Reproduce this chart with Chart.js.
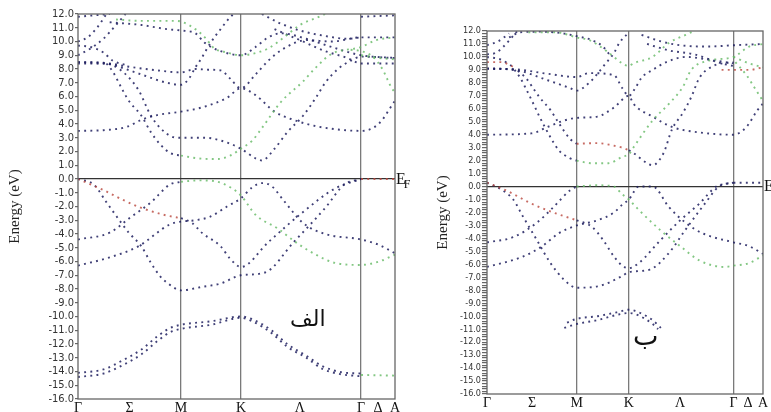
<!DOCTYPE html>
<html lang="fa">
<head>
    <meta charset="UTF-8">
    <title>Band structure</title>
    <script src="https://cdn.jsdelivr.net/npm/chart.js"></script>
    <style>
        body { margin: 0; background: #fff; width: 771px; height: 412px; overflow: hidden; position: relative; }
        .box { position: absolute; top: 0; height: 412px; }
        .lbl { position: absolute; color: #111; white-space: nowrap; }
        .ef { font-family: "Liberation Serif", "DejaVu Serif", serif; font-size: 16px; }
        .ar { font-family: "DejaVu Sans", sans-serif; }
    </style>
</head>
<body>
    <div class="box" style="left:0;width:410px"><canvas id="chartA"></canvas></div>
    <div class="box" style="left:410px;width:361px"><canvas id="chartB"></canvas></div>
    <div class="lbl ef" style="left:396px;top:170px">E<sub style="font-size:12px;margin-left:-2px">F</sub></div>
    <div class="lbl ef" style="left:764px;top:177px">E</div>
    <div class="lbl ar" style="left:290px;top:306px;font-size:22px" dir="rtl">الف</div>
    <div class="lbl ar" style="left:633px;top:320px;font-size:27px" dir="rtl">ب</div>

    <script>
        // k path: Γ - Σ - M - K - Λ - Γ - Δ - A
        const kTicks = [0, 0.163, 0.325, 0.514, 0.70, 0.893, 0.946, 1];
        const kLabels = ['Γ', 'Σ', 'M', 'K', 'Λ', 'Γ', 'Δ', 'A'];
        const kLines = [0.325, 0.514, 0.893];

        // ---- panel الف : bands as [k, E(eV)] ----
        const aVal1 = [[0.325,-2.85],[0.36,-3.2],[0.39,-3.9],[0.45,-4.9],[0.48,-5.8],[0.514,-6.4],[0.6,-4.6],[0.71,-2.4],[0.81,-0.7],[0.893,0]];
        const aVal1r = [[0,0],[0.08,-0.8],[0.14,-1.5],[0.2,-2.1],[0.27,-2.6],[0.325,-2.85]];
        const aVal2 = [[0,0],[0.05,-0.4],[0.09,-1.7],[0.14,-3.3],[0.16,-3.9],[0.2,-4.9],[0.23,-6.1],[0.26,-7.1],[0.29,-7.7],[0.325,-8.1],[0.39,-7.85],[0.45,-7.6],[0.514,-7.0],[0.59,-6.8],[0.68,-4.6],[0.78,-2.1],[0.84,-0.4],[0.893,0]];
        const aValTop = [[0.893,0],[1,0]];
        const aVal3 = [[0,-4.4],[0.1,-3.9],[0.165,-2.8],[0.23,-1.7],[0.29,-0.4],[0.325,-0.2]];
        const aVal3g = [[0.325,-0.2],[0.38,-0.1],[0.43,-0.15],[0.48,-0.6],[0.514,-1.2],[0.56,-2.6],[0.63,-3.6],[0.69,-4.65],[0.75,-5.5],[0.81,-6.1],[0.893,-6.25],[0.95,-6.0],[1,-5.5]];
        const aVal4 = [[0,-6.3],[0.1,-5.7],[0.19,-4.9],[0.29,-3.3],[0.325,-3.1],[0.37,-3.0],[0.416,-2.75],[0.47,-2.0],[0.514,-1.4],[0.55,-0.6],[0.58,-0.3],[0.61,-0.5],[0.65,-1.6],[0.71,-3.2],[0.78,-4.0],[0.893,-4.4],[0.95,-4.8],[1,-5.4]];
        const aLow1 = [[0,-14.1],[0.08,-13.85],[0.14,-13.2],[0.2,-12.4],[0.25,-11.45],[0.29,-10.85],[0.325,-10.6],[0.42,-10.35],[0.514,-10.0],[0.55,-10.2],[0.61,-11.0],[0.66,-12.0],[0.72,-12.85],[0.77,-13.6],[0.83,-14.05],[0.893,-14.15]];
        const aLow2 = [[0,-14.4],[0.08,-14.15],[0.14,-13.55],[0.2,-12.75],[0.25,-11.8],[0.29,-11.15],[0.325,-10.9],[0.42,-10.6],[0.514,-10.1],[0.55,-10.35],[0.61,-11.2],[0.66,-12.2],[0.72,-13.0],[0.77,-13.8],[0.83,-14.2],[0.893,-14.35]];
        const aLowG = [[0.893,-14.25],[1,-14.3]];
        const aCon1 = [[0,3.5],[0.08,3.55],[0.155,3.8],[0.2,4.3],[0.25,4.65],[0.325,4.9],[0.39,5.2],[0.47,5.9],[0.514,6.6],[0.56,6.1],[0.62,4.9],[0.68,4.3],[0.76,3.8],[0.893,3.5],[0.93,3.7],[0.96,4.3],[0.98,5.0],[1,5.7]];
        const aCon2 = [[0.09,8.4],[0.11,7.8],[0.14,6.5],[0.16,5.7],[0.2,4.6],[0.23,3.4],[0.26,2.5],[0.29,1.9],[0.325,1.7]];
        const aCon2g = [[0.325,1.7],[0.38,1.5],[0.44,1.45],[0.48,1.7],[0.514,2.2],[0.55,2.8],[0.58,3.7],[0.64,5.6],[0.71,7.1],[0.75,8.1],[0.8,9.1],[0.893,9.6],[0.94,10.1],[1,10.3]];
        const aCon3 = [[0,8.5],[0.08,8.45],[0.13,8.0],[0.19,6.5],[0.23,4.6],[0.26,3.7],[0.3,3.05],[0.325,3.0],[0.4,3.0],[0.45,2.8],[0.514,2.2],[0.56,1.5],[0.58,1.35],[0.62,2.2],[0.66,3.4],[0.71,4.6],[0.75,5.9],[0.78,7.0],[0.82,8.0],[0.86,8.6],[0.893,8.9],[1,8.8]];
        const aCon4 = [[0,8.5],[0.1,8.4],[0.15,8.2],[0.25,7.9],[0.325,7.75],[0.37,8.0],[0.41,7.95],[0.45,7.9],[0.48,7.3],[0.514,6.6],[0.56,7.6],[0.6,8.6],[0.65,9.5],[0.72,10.1],[0.8,10.0],[0.893,10.3],[1,10.3]];
        const aCon5 = [[0,8.4],[0.1,8.35],[0.15,8.0],[0.2,7.6],[0.28,7.0],[0.325,6.85],[0.35,7.3],[0.37,8.1],[0.39,8.8],[0.41,9.6],[0.43,10.3],[0.45,10.9],[0.47,11.5],[0.49,12.0]];
        const aTopG = [[0.12,11.6],[0.2,11.5],[0.3,11.5],[0.325,11.45],[0.37,10.9],[0.4,10.3],[0.43,9.5],[0.47,9.2],[0.514,9.0],[0.55,9.1],[0.6,9.5],[0.65,10.3],[0.7,11.2],[0.75,11.7],[0.78,12]];
        const aTop1 = [[0.1,11.4],[0.2,11.2],[0.28,10.9],[0.325,10.8],[0.37,10.6],[0.4,9.9],[0.45,9.3],[0.514,9.0],[0.56,9.6],[0.6,10.3],[0.64,10.6],[0.72,10.2],[0.8,9.6],[0.893,9.0],[1,8.8]];
        const aTop2 = [[0,11.8],[0.05,11.9],[0.1,12]];
        const aTop3 = [[0,9.0],[0.04,9.5],[0.08,10.2],[0.12,11.2],[0.15,12]];
        const aTop4 = [[0,10.0],[0.03,10.3],[0.06,11.0],[0.09,12]];
        const aTop5 = [[0,9.7],[0.04,9.6],[0.08,9.2],[0.11,8.6],[0.15,8.3]];
        const aTop6 = [[0.58,12],[0.64,11.3],[0.7,10.8],[0.78,10.4],[0.85,10.2],[0.893,10.3]];
        const aTop7 = [[0.62,10.9],[0.7,10.1],[0.78,9.3],[0.85,8.8],[0.893,8.4],[1,8.4]];
        const aTop8 = [[0.893,11.8],[1,11.9]];
        const aTopG2 = [[0.86,9.4],[0.893,9.3],[0.93,8.9],[0.96,8.0],[0.99,6.6],[1,6.3]];
        const aTopG3 = [[0.893,9.0],[0.95,8.8],[1,8.7]];

        const aDark = [aVal1, aVal2, aVal3, aVal4, aLow1, aLow2, aCon1, aCon2, aCon3, aCon4, aCon5, aTop1, aTop2, aTop3, aTop4, aTop5, aTop6, aTop7, aTop8];
        const aRed = [aVal1r, aValTop];
        const aGreen = [aVal3g, aLowG, aCon2g, aTopG, aTopG2, aTopG3];

        // ---- panel ب ----
        const bVal1r = [[0,0.3],[0.07,-0.3],[0.16,-1.3],[0.24,-2.0],[0.325,-2.6]];
        const bVal1 = [[0.325,-2.6],[0.38,-3.1],[0.42,-4.1],[0.46,-5.4],[0.49,-6.1],[0.514,-6.3],[0.55,-5.9],[0.63,-4.1],[0.7,-2.6],[0.77,-1.3],[0.83,0.0],[0.86,0.2],[0.893,0.3]];
        const bVal2 = [[0,0.3],[0.05,-0.2],[0.095,-1.0],[0.13,-2.3],[0.18,-4.1],[0.23,-5.9],[0.28,-7.2],[0.325,-7.8],[0.4,-7.7],[0.49,-6.9],[0.514,-6.6],[0.59,-6.4],[0.66,-5.1],[0.72,-3.3],[0.79,-1.3],[0.84,0.0],[0.893,0.3]];
        const bValTop = [[0.893,0.3],[1,0.3]];
        const bVal3 = [[0,-4.3],[0.095,-3.9],[0.18,-2.8],[0.24,-1.6],[0.3,-0.3],[0.325,0.0]];
        const bVal3g = [[0.325,0.0],[0.4,0.1],[0.46,0.0],[0.49,-0.6],[0.514,-1.0],[0.55,-1.8],[0.63,-3.4],[0.7,-4.6],[0.77,-5.7],[0.86,-6.2],[0.893,-6.1],[0.95,-5.9],[1,-5.3]];
        const bVal4 = [[0,-6.2],[0.13,-5.4],[0.2,-4.6],[0.26,-3.6],[0.325,-3.0],[0.4,-2.6],[0.46,-2.0],[0.49,-1.4],[0.514,-1.0],[0.55,0.0],[0.6,0.0],[0.66,-1.6],[0.72,-2.8],[0.78,-3.6],[0.893,-4.3],[0.95,-4.6],[1,-5.2]];
        const bLow1 = [[0.29,-10.5],[0.325,-10.2],[0.4,-10.0],[0.47,-9.7],[0.514,-9.5],[0.55,-9.7],[0.6,-10.3],[0.63,-10.9]];
        const bLow2 = [[0.28,-10.9],[0.325,-10.6],[0.4,-10.3],[0.47,-9.9],[0.514,-9.75],[0.55,-9.95],[0.6,-10.6],[0.62,-11.0]];
        const bCon1 = [[0,4.0],[0.16,4.1],[0.22,4.6],[0.28,5.1],[0.325,5.3],[0.4,5.4],[0.46,6.1],[0.514,7.0],[0.53,6.4],[0.6,5.4],[0.67,4.6],[0.76,4.2],[0.893,4.0],[0.94,4.6],[0.98,5.9],[1,6.4]];
        const bCon2 = [[0.1,9.0],[0.12,8.4],[0.14,7.6],[0.17,6.3],[0.19,5.4],[0.23,3.8],[0.26,2.8],[0.3,2.2],[0.325,2.0]];
        const bCon2g = [[0.325,2.0],[0.38,1.8],[0.44,1.8],[0.49,2.3],[0.514,2.5],[0.53,3.0],[0.6,5.1],[0.66,6.4],[0.71,7.7],[0.74,9.0],[0.8,9.7],[0.893,10.0],[0.95,10.8],[1,11.0]];
        const bCon3 = [[0,9.1],[0.1,9.0],[0.14,8.4],[0.17,7.5],[0.19,6.9],[0.23,5.9],[0.26,4.9],[0.3,3.7],[0.325,3.3]];
        const bCon3r = [[0.325,3.3],[0.4,3.35],[0.45,3.2],[0.49,3.0],[0.514,2.8]];
        const bCon3b = [[0.514,2.8],[0.53,2.6],[0.58,1.8],[0.6,1.65],[0.64,2.6],[0.67,4.4],[0.71,5.7],[0.74,6.9],[0.77,8.4],[0.82,9.3],[0.893,9.6]];
        const bCon4 = [[0,9.1],[0.1,9.05],[0.22,8.7],[0.325,8.45],[0.37,8.75],[0.46,8.6],[0.49,7.6],[0.514,7.0],[0.54,7.7],[0.56,8.4],[0.6,9.0],[0.65,9.6],[0.72,10.0],[0.8,9.8],[0.893,9.5]];
        const bCon5 = [[0,9.1],[0.1,9.0],[0.22,8.2],[0.3,7.6],[0.325,7.4],[0.37,8.0],[0.4,8.7],[0.43,9.5],[0.46,10.3],[0.48,11.1],[0.51,11.8]];
        const bTopG = [[0.15,11.9],[0.25,11.9],[0.325,11.5],[0.37,11.3],[0.43,10.5],[0.46,10.0],[0.49,9.5],[0.514,9.3],[0.53,9.5],[0.6,10.0],[0.66,11.1],[0.72,11.7],[0.75,12]];
        const bTop1 = [[0.08,11.5],[0.12,11.9],[0.2,11.95],[0.28,11.8],[0.325,11.6],[0.38,11.3],[0.42,10.8],[0.45,10.0]];
        const bTop2 = [[0.56,11.7],[0.63,11.2],[0.7,10.9],[0.8,10.8],[0.893,10.9],[1,11.0]];
        const bTop3 = [[0.58,11.0],[0.66,10.5],[0.75,10.2],[0.85,9.5],[0.893,9.3]];
        const bTop4 = [[0,10.9],[0.04,11.2],[0.08,11.8]];
        const bTop5 = [[0,10.2],[0.03,10.3],[0.06,10.8],[0.09,11.5],[0.11,12]];
        const bTop6 = [[0,10.0],[0.05,9.8],[0.09,9.3]];
        const bTopR = [[0,9.6],[0.05,9.6],[0.1,9.2]];
        const bTopR2 = [[0.85,9.0],[0.893,9.0],[0.95,9.0],[1,9.2]];
        const bTopG2 = [[0.893,10.0],[0.95,9.5],[1,9.2]];
        const bTopG3 = [[0.9,9.6],[0.94,8.6],[0.97,7.6],[1,6.6]];

        const bDark = [bVal1, bVal2, bValTop, bVal3, bVal4, bLow1, bLow2, bCon1, bCon2, bCon3, bCon3b, bCon4, bCon5, bTop1, bTop2, bTop3, bTop4, bTop5, bTop6];
        const bRed = [bVal1r, bCon3r, bTopR, bTopR2];
        const bGreen = [bVal3g, bCon2g, bTopG, bTopG2, bTopG3];

        const DARK = 'rgba(30,30,95,0.85)';
        const RED = 'rgba(185,70,60,0.8)';
        const GREEN = 'rgba(100,185,100,0.8)';

        function toSets(groups) {
            const out = [];
            groups.forEach(([bands, color]) => {
                bands.forEach(b => {
                    out.push({
                        data: b.map(p => ({ x: p[0], y: p[1] })),
                        showLine: true,
                        borderColor: color,
                        borderWidth: 1.9,
                        borderDash: [1.9, 4.3],
                        pointRadius: 0,
                        cubicInterpolationMode: 'monotone'
                    });
                });
            });
            return out;
        }

        // box around the plot area
        const frame = {
            id: 'frame',
            afterDatasetsDraw(chart) {
                const a = chart.chartArea, c = chart.ctx;
                c.save();
                c.strokeStyle = '#666';
                c.lineWidth = 1.3;
                c.strokeRect(a.left, a.top, a.right - a.left, a.bottom - a.top);
                c.restore();
            }
        };

        function makeChart(id, groups, o) {
            return new Chart(document.getElementById(id), {
                type: 'scatter',
                data: { datasets: toSets(groups) },
                options: {
                    responsive: false,
                    animation: false,
                    devicePixelRatio: 1,
                    layout: { padding: { left: 0, top: o.top, right: o.right, bottom: 0 } },
                    plugins: { legend: { display: false }, tooltip: { enabled: false } },
                    scales: {
                        x: {
                            type: 'linear', min: 0, max: 1,
                            afterBuildTicks: s => { s.ticks = kTicks.map(v => ({ value: v })); },
                            afterFit: s => { s.height = o.xh; },
                            ticks: {
                                autoSkip: false, maxRotation: 0, padding: 1,
                                callback: (v, i) => kLabels[i],
                                color: '#111',
                                font: { family: 'Liberation Serif, DejaVu Serif, serif', size: 14 }
                            },
                            grid: {
                                color: c => (c.tick && kLines.includes(c.tick.value)) ? '#7a7a7a' : 'rgba(0,0,0,0)',
                                lineWidth: 1.3, drawTicks: false
                            },
                            border: { display: false }
                        },
                        y: {
                            min: -16, max: 12,
                            afterFit: s => { s.width = o.yw; },
                            ticks: {
                                stepSize: o.step, maxTicksLimit: 200, autoSkip: false, padding: 1,
                                color: '#333',
                                font: { family: 'DejaVu Sans Condensed, DejaVu Sans, sans-serif', size: o.fs },
                                callback: v => Math.abs(v - Math.round(v)) < 1e-6 ? Number(v).toFixed(1) : ''
                            },
                            grid: {
                                color: c => (c.tick && Math.abs(c.tick.value) < 1e-6) ? '#333' : 'rgba(0,0,0,0)',
                                tickColor: '#666', tickLength: o.tl, lineWidth: 1.2
                            },
                            border: { display: false },
                            title: {
                                display: true, text: 'Energy (eV)', color: '#222',
                                font: { family: 'Liberation Serif, DejaVu Serif, serif', size: 15 },
                                padding: { top: o.tp, bottom: 0 }
                            }
                        }
                    }
                },
                plugins: [frame]
            });
        }

        const cA = document.getElementById('chartA');
        cA.width = 410; cA.height = 412;
        const cB = document.getElementById('chartB');
        cB.width = 361; cB.height = 412;

        makeChart('chartA', [[aGreen, GREEN], [aRed, RED], [aDark, DARK]],
            { top: 14, right: 15, xh: 13, yw: 78, step: 1, fs: 11, tl: 3, tp: 6 });
        makeChart('chartB', [[bGreen, GREEN], [bRed, RED], [bDark, DARK]],
            { top: 31, right: 8, xh: 18, yw: 77, step: 0.2, fs: 9, tl: 5, tp: 24 });
    </script>
</body>
</html>
